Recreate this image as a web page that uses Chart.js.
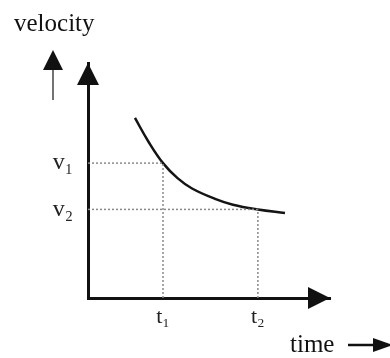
<!DOCTYPE html>
<html>
<head>
<meta charset="utf-8">
<script src="https://cdn.jsdelivr.net/npm/chart.js@4"></script>
<style>
  html, body { margin: 0; padding: 0; background: #fff; }
  #wrap { width: 390px; height: 358px; }
</style>
</head>
<body>
<div id="wrap"><canvas id="graf"></canvas></div>
<script>
// velocity falls off with time
var curveT = [1.94, 2.50, 3.10, 3.70, 4.30, 5.25, 5.99, 7.02, 8.14];
var curveV = [7.66, 6.65, 5.74, 5.10, 4.66, 4.22, 3.97, 3.77, 3.62];

// marked instants and their velocities
var tMarks = [3.10, 7.02];
var vMarks = [5.74, 3.77];
var tLabels = ['t\u2081', 't\u2082'];
var vLabels = ['v\u2081', 'v\u2082'];

var serif = "'Liberation Serif', 'DejaVu Serif', serif";

function pts(xs, ys) {
    return xs.map(function (x, i) { return { x: x, y: ys[i] }; });
}

var dotted = { borderColor: '#8a8a8a', borderWidth: 1.5, borderDash: [2, 2], pointRadius: 0, showLine: true, fill: false };

var extras = {
    id: 'extras',
    afterDraw: function (chart) {
        var c = chart.ctx, a = chart.chartArea;
        c.save();
        c.fillStyle = '#111';
        // axis arrow heads
        c.beginPath();
        c.moveTo(a.left, a.top);
        c.lineTo(a.left - 11, a.top + 22);
        c.lineTo(a.left + 11, a.top + 22);
        c.closePath();
        c.fill();
        c.beginPath();
        c.moveTo(a.right, a.bottom);
        c.lineTo(a.right - 22, a.bottom - 11);
        c.lineTo(a.right - 22, a.bottom + 11);
        c.closePath();
        c.fill();

        // velocity label + arrow
        c.font = '25px ' + serif;
        c.textBaseline = 'alphabetic';
        c.textAlign = 'left';
        c.fillText('velocity', 14, 31);
        c.strokeStyle = '#444';
        c.lineWidth = 1.5;
        c.beginPath();
        c.moveTo(53, 68);
        c.lineTo(53, 100);
        c.stroke();
        c.beginPath();
        c.moveTo(53, 50);
        c.lineTo(43, 70);
        c.lineTo(63, 70);
        c.closePath();
        c.fill();

        // time label + arrow
        c.fillText('time', 290, 352);
        c.strokeStyle = '#111';
        c.lineWidth = 2.5;
        c.beginPath();
        c.moveTo(348, 345);
        c.lineTo(376, 345);
        c.stroke();
        c.beginPath();
        c.moveTo(393, 345);
        c.lineTo(373, 338);
        c.lineTo(373, 352);
        c.closePath();
        c.fill();
        c.restore();
    }
};

var ctx = document.getElementById('graf').getContext('2d');
var graf = new Chart(ctx, {
    type: 'scatter',
    data: {
        datasets: [
            Object.assign({ data: [{ x: 0, y: vMarks[0] }, { x: tMarks[0], y: vMarks[0] }] }, dotted),
            Object.assign({ data: [{ x: tMarks[0], y: 0 }, { x: tMarks[0], y: vMarks[0] }] }, dotted),
            Object.assign({ data: [{ x: 0, y: vMarks[1] }, { x: tMarks[1], y: vMarks[1] }] }, dotted),
            Object.assign({ data: [{ x: tMarks[1], y: 0 }, { x: tMarks[1], y: vMarks[1] }] }, dotted),
            {
                data: pts(curveT, curveV),
                showLine: true,
                borderColor: '#141414',
                borderWidth: 2.5,
                pointRadius: 0,
                tension: 0.4,
                fill: false
            }
        ]
    },
    options: {
        responsive: true,
        maintainAspectRatio: false,
        animation: false,
        layout: { padding: { top: 63, right: 60, left: 0, bottom: 0 } },
        plugins: { legend: { display: false }, tooltip: { enabled: false } },
        scales: {
            x: {
                type: 'linear', min: 0, max: 10,
                grid: { display: false, drawTicks: false },
                border: { display: true, color: '#111', width: 3 },
                afterBuildTicks: function (s) { s.ticks = tMarks.map(function (v) { return { value: v }; }); },
                afterFit: function (s) { s.height = 60; },
                ticks: {
                    padding: 6,
                    color: '#222',
                    font: { family: serif, size: 22 },
                    maxRotation: 0,
                    callback: function (v) { return tLabels[tMarks.indexOf(v)]; }
                }
            },
            y: {
                type: 'linear', min: 0, max: 10,
                grid: { display: false, drawTicks: false },
                border: { display: true, color: '#111', width: 3 },
                afterBuildTicks: function (s) { s.ticks = vMarks.map(function (v) { return { value: v }; }); },
                afterFit: function (s) { s.width = 88; },
                ticks: {
                    padding: 15,
                    color: '#222',
                    font: { family: serif, size: 24 },
                    callback: function (v) { return vLabels[vMarks.indexOf(v)]; }
                }
            }
        }
    },
    plugins: [extras]
});
</script>
</body>
</html>
